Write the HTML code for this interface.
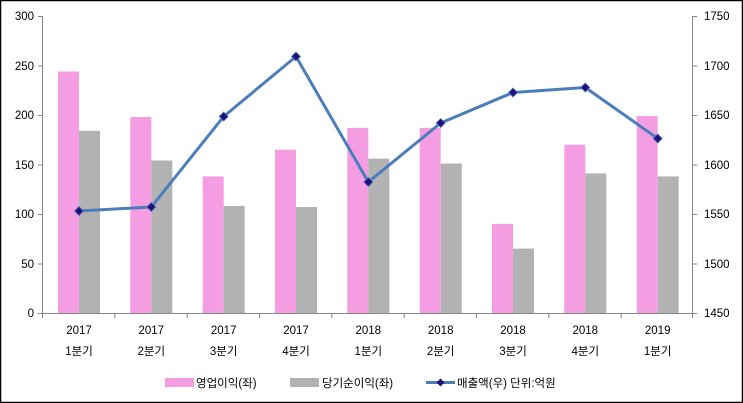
<!DOCTYPE html>
<html><head><meta charset="utf-8"><style>
html,body{margin:0;padding:0;background:#fff}
svg{display:block}
text{font-family:"Liberation Sans","Noto Sans CJK KR",sans-serif;font-size:11.5px;fill:#000}
</style></head><body>
<svg width="743" height="403" viewBox="0 0 743 403" xmlns="http://www.w3.org/2000/svg">
<rect x="0.5" y="0.5" width="742" height="402" fill="#fff" stroke="#000" stroke-width="1.5"/>
<g stroke="#868686" stroke-width="1">
<line x1="42.5" y1="16" x2="42.5" y2="313"/>
<line x1="692.5" y1="16" x2="692.5" y2="313"/>
<line x1="42" y1="313.5" x2="693" y2="313.5"/>
<line x1="38" y1="16.5" x2="42" y2="16.5"/><line x1="38" y1="66" x2="42" y2="66"/><line x1="38" y1="115.5" x2="42" y2="115.5"/><line x1="38" y1="165" x2="42" y2="165"/><line x1="38" y1="214.5" x2="42" y2="214.5"/><line x1="38" y1="264" x2="42" y2="264"/><line x1="38" y1="313.5" x2="42" y2="313.5"/>
<line x1="693" y1="16.5" x2="697" y2="16.5"/><line x1="693" y1="66" x2="697" y2="66"/><line x1="693" y1="115.5" x2="697" y2="115.5"/><line x1="693" y1="165" x2="697" y2="165"/><line x1="693" y1="214.5" x2="697" y2="214.5"/><line x1="693" y1="264" x2="697" y2="264"/><line x1="693" y1="313.5" x2="697" y2="313.5"/>
<line x1="42.5" y1="313" x2="42.5" y2="318"/><line x1="114.8" y1="313" x2="114.8" y2="318"/><line x1="187.2" y1="313" x2="187.2" y2="318"/><line x1="259.5" y1="313" x2="259.5" y2="318"/><line x1="331.8" y1="313" x2="331.8" y2="318"/><line x1="404.2" y1="313" x2="404.2" y2="318"/><line x1="476.5" y1="313" x2="476.5" y2="318"/><line x1="548.8" y1="313" x2="548.8" y2="318"/><line x1="621.2" y1="313" x2="621.2" y2="318"/><line x1="692.5" y1="313" x2="692.5" y2="318"/>
</g>
<g text-anchor="end">
<text x="34" y="20">300</text><text x="34" y="70">250</text><text x="34" y="119">200</text><text x="34" y="169">150</text><text x="34" y="218">100</text><text x="34" y="268">50</text><text x="34" y="317">0</text>
</g>
<g>
<text x="704" y="20">1750</text><text x="704" y="70">1700</text><text x="704" y="119">1650</text><text x="704" y="169">1600</text><text x="704" y="218">1550</text><text x="704" y="268">1500</text><text x="704" y="317">1450</text>
</g>
<g fill="#F59DE3">
<rect x="58" y="71.5" width="21" height="241.5"/>
<rect x="130.3" y="117" width="21" height="196"/>
<rect x="202.7" y="176.4" width="21" height="136.6"/>
<rect x="275" y="149.7" width="21" height="163.3"/>
<rect x="347.3" y="127.9" width="21" height="185.1"/>
<rect x="419.7" y="127.9" width="21" height="185.1"/>
<rect x="492" y="223.9" width="21" height="89.1"/>
<rect x="564.3" y="144.7" width="21" height="168.3"/>
<rect x="636.7" y="116" width="21" height="197"/>
</g>
<g fill="#B2B2B2">
<rect x="79" y="130.8" width="21" height="182.2"/>
<rect x="151.3" y="160.5" width="21" height="152.5"/>
<rect x="223.7" y="206" width="21" height="107"/>
<rect x="296" y="207" width="21" height="106"/>
<rect x="368.3" y="158.6" width="21" height="154.4"/>
<rect x="440.7" y="163.5" width="21" height="149.5"/>
<rect x="513" y="248.6" width="21" height="64.4"/>
<rect x="585.3" y="173.4" width="21" height="139.6"/>
<rect x="657.7" y="176.4" width="21" height="136.6"/>
</g>
<polyline fill="none" stroke="#4A7EBB" stroke-width="3" stroke-linejoin="round" points="79,211 151.3,207 223.7,116.5 296,56.5 368.3,182 440.7,123 513,92.5 585.3,87.5 657.7,138.5"/>
<g fill="#250F7A" stroke="#4A7EBB" stroke-width="0.8">
<path d="M79,206.5l4.5,4.5l-4.5,4.5l-4.5,-4.5z"/>
<path d="M151.3,202.5l4.5,4.5l-4.5,4.5l-4.5,-4.5z"/>
<path d="M223.7,112l4.5,4.5l-4.5,4.5l-4.5,-4.5z"/>
<path d="M296,52l4.5,4.5l-4.5,4.5l-4.5,-4.5z"/>
<path d="M368.3,177.5l4.5,4.5l-4.5,4.5l-4.5,-4.5z"/>
<path d="M440.7,118.5l4.5,4.5l-4.5,4.5l-4.5,-4.5z"/>
<path d="M513,88l4.5,4.5l-4.5,4.5l-4.5,-4.5z"/>
<path d="M585.3,83l4.5,4.5l-4.5,4.5l-4.5,-4.5z"/>
<path d="M657.7,134l4.5,4.5l-4.5,4.5l-4.5,-4.5z"/>
</g>
<g text-anchor="middle">
<text x="79" y="334">2017</text><text x="79" y="355">1분기</text>
<text x="151.3" y="334">2017</text><text x="151.3" y="355">2분기</text>
<text x="223.7" y="334">2017</text><text x="223.7" y="355">3분기</text>
<text x="296" y="334">2017</text><text x="296" y="355">4분기</text>
<text x="368.3" y="334">2018</text><text x="368.3" y="355">1분기</text>
<text x="440.7" y="334">2018</text><text x="440.7" y="355">2분기</text>
<text x="513" y="334">2018</text><text x="513" y="355">3분기</text>
<text x="585.3" y="334">2018</text><text x="585.3" y="355">4분기</text>
<text x="657.7" y="334">2019</text><text x="657.7" y="355">1분기</text>
</g>
<rect x="165" y="378" width="29" height="9" fill="#F59DE3"/>
<text x="196" y="387">영업이익(좌)</text>
<rect x="290" y="378" width="29" height="9" fill="#B2B2B2"/>
<text x="322" y="387">당기순이익(좌)</text>
<line x1="426" y1="382.5" x2="455" y2="382.5" stroke="#4A7EBB" stroke-width="3"/>
<path d="M440.5,378.5l4,4l-4,4l-4,-4z" fill="#250F7A"/>
<text x="457" y="387">매출액(우)  단위:억원</text>
</svg>
</body></html>
